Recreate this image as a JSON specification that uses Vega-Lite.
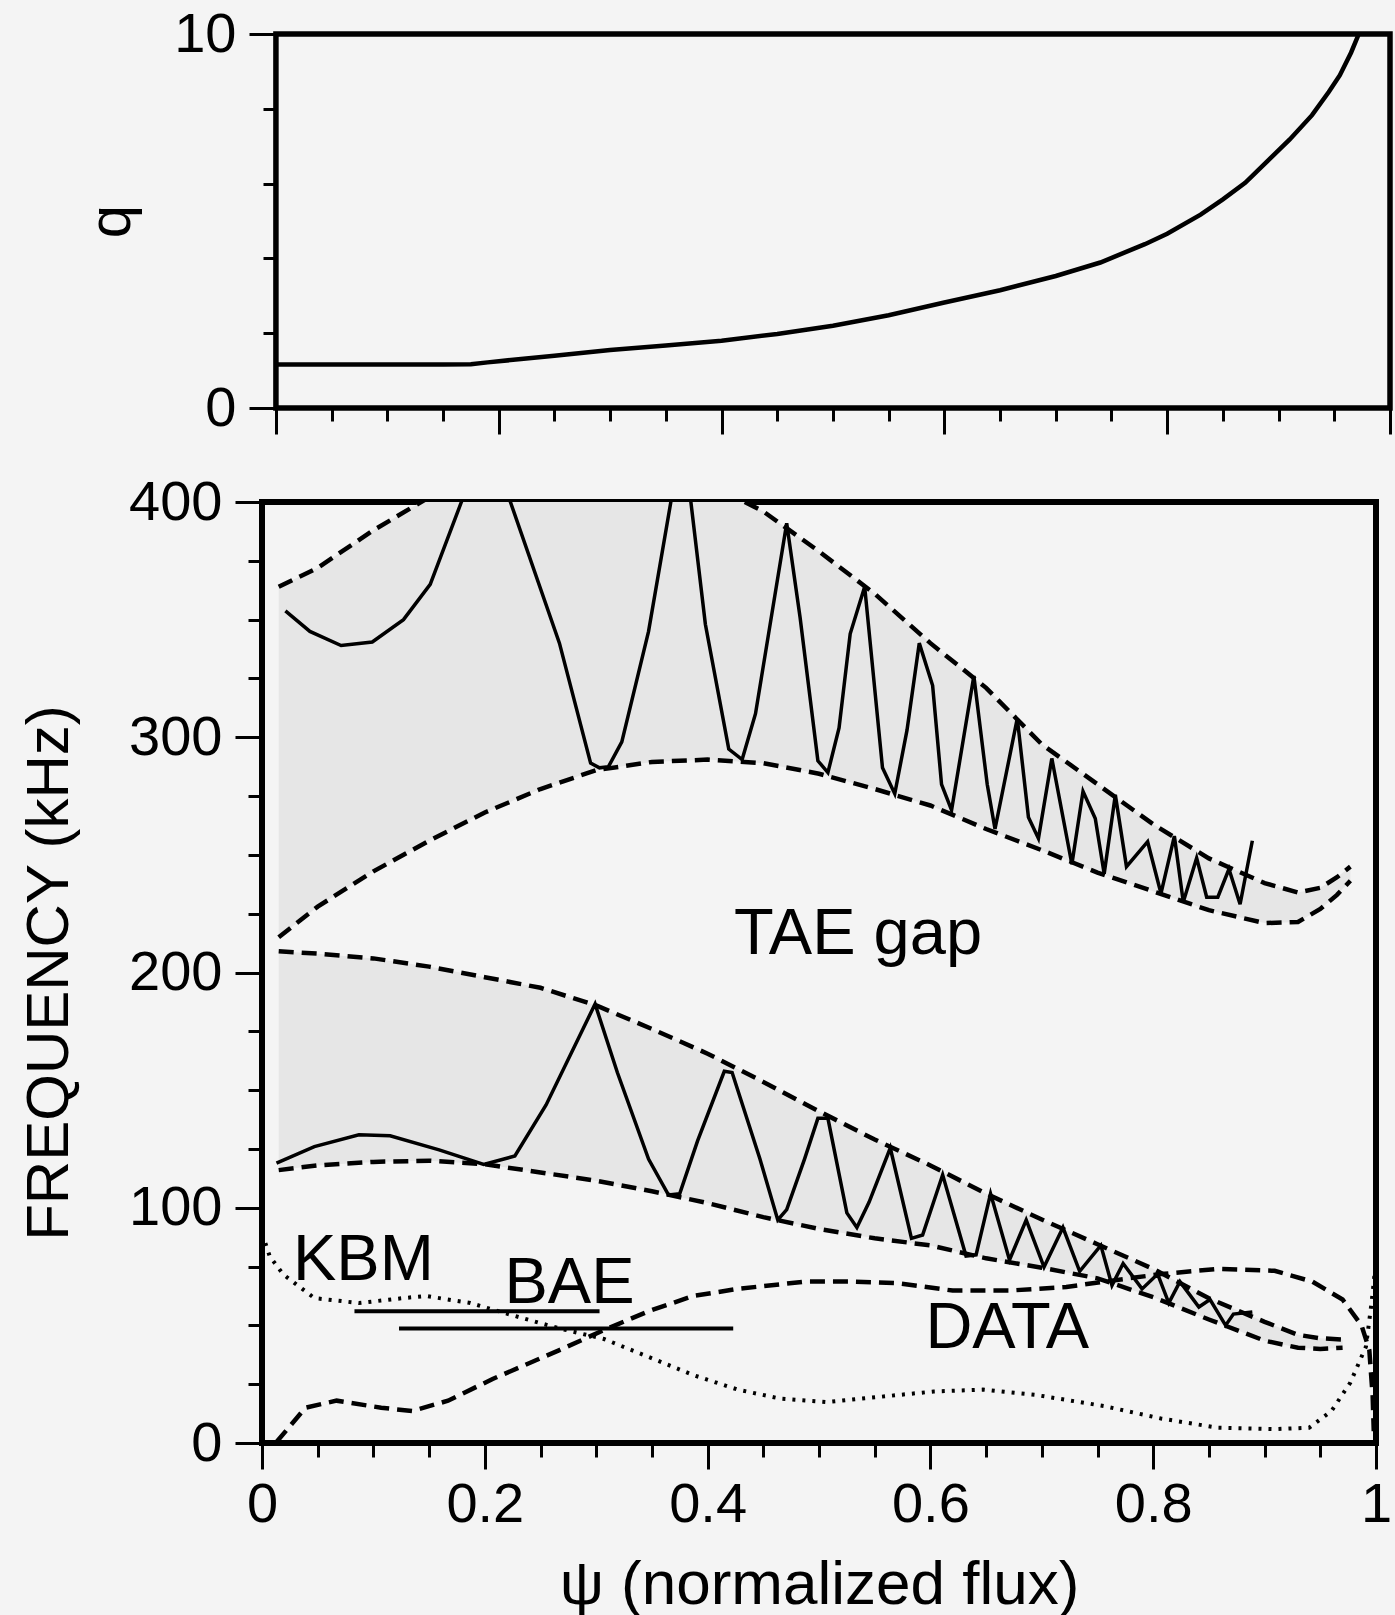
{
  "$schema": "https://vega.github.io/schema/vega-lite/v6.json",
  "padding": {"left": 16, "top": 6, "right": 0, "bottom": 0},
  "spacing": 35,
  "datasets": {
    "q": [
      {"psi": 0, "q": 1.16}, {"psi": 0.05, "q": 1.16}, {"psi": 0.1, "q": 1.16}, {"psi": 0.15, "q": 1.16},
      {"psi": 0.175, "q": 1.17}, {"psi": 0.19, "q": 1.22}, {"psi": 0.22, "q": 1.31}, {"psi": 0.25, "q": 1.4},
      {"psi": 0.3, "q": 1.55}, {"psi": 0.35, "q": 1.67}, {"psi": 0.4, "q": 1.8}, {"psi": 0.45, "q": 1.98},
      {"psi": 0.5, "q": 2.2}, {"psi": 0.55, "q": 2.48}, {"psi": 0.6, "q": 2.82}, {"psi": 0.65, "q": 3.15},
      {"psi": 0.7, "q": 3.53}, {"psi": 0.74, "q": 3.89}, {"psi": 0.78, "q": 4.38}, {"psi": 0.8, "q": 4.66},
      {"psi": 0.83, "q": 5.17}, {"psi": 0.85, "q": 5.58}, {"psi": 0.87, "q": 6.02}, {"psi": 0.89, "q": 6.6},
      {"psi": 0.91, "q": 7.18}, {"psi": 0.93, "q": 7.83}, {"psi": 0.945, "q": 8.45}, {"psi": 0.955, "q": 8.9},
      {"psi": 0.965, "q": 9.5}, {"psi": 0.972, "q": 10}
    ],
    "band1": [
      {"psi": 0.015, "hi": 364, "lo": 215}, {"psi": 0.05, "hi": 372, "lo": 228}, {"psi": 0.1, "hi": 388, "lo": 243},
      {"psi": 0.15, "hi": 402, "lo": 256}, {"psi": 0.2, "hi": 412, "lo": 268}, {"psi": 0.25, "hi": 418, "lo": 278},
      {"psi": 0.3, "hi": 420, "lo": 286}, {"psi": 0.35, "hi": 416, "lo": 289.5}, {"psi": 0.4, "hi": 408, "lo": 290.5},
      {"psi": 0.45, "hi": 396, "lo": 289}, {"psi": 0.5, "hi": 379, "lo": 284.5}, {"psi": 0.55, "hi": 361, "lo": 278},
      {"psi": 0.6, "hi": 340, "lo": 271}, {"psi": 0.65, "hi": 321, "lo": 261}, {"psi": 0.7, "hi": 297, "lo": 252},
      {"psi": 0.75, "hi": 280, "lo": 242.5}, {"psi": 0.8, "hi": 263, "lo": 234.5}, {"psi": 0.85, "hi": 248.5, "lo": 226.5},
      {"psi": 0.9, "hi": 238, "lo": 221}, {"psi": 0.93, "hi": 234, "lo": 221.5}, {"psi": 0.95, "hi": 236, "lo": 227},
      {"psi": 0.965, "hi": 240.5, "lo": 233}, {"psi": 0.977, "hi": 245, "lo": 239}
    ],
    "band2": [
      {"psi": 0.015, "hi": 209, "lo": 116}, {"psi": 0.05, "hi": 208, "lo": 118}, {"psi": 0.1, "hi": 206, "lo": 119.5},
      {"psi": 0.15, "hi": 202.5, "lo": 120}, {"psi": 0.2, "hi": 198, "lo": 118.5}, {"psi": 0.25, "hi": 193.5, "lo": 115},
      {"psi": 0.3, "hi": 186, "lo": 111.5}, {"psi": 0.35, "hi": 176, "lo": 107}, {"psi": 0.4, "hi": 165.5, "lo": 102},
      {"psi": 0.45, "hi": 153.5, "lo": 96}, {"psi": 0.5, "hi": 141, "lo": 91}, {"psi": 0.55, "hi": 129, "lo": 87},
      {"psi": 0.6, "hi": 118, "lo": 84}, {"psi": 0.65, "hi": 106, "lo": 78.5}, {"psi": 0.7, "hi": 95, "lo": 74.5},
      {"psi": 0.75, "hi": 84.5, "lo": 70}, {"psi": 0.8, "hi": 74, "lo": 62}, {"psi": 0.85, "hi": 61.5, "lo": 52.5},
      {"psi": 0.9, "hi": 51.5, "lo": 43.5}, {"psi": 0.93, "hi": 46, "lo": 40.5}, {"psi": 0.95, "hi": 44.5, "lo": 40},
      {"psi": 0.97, "hi": 44, "lo": 40.5}
    ],
    "tae1": [
      {"psi": 0.021, "f": 353.7}, {"psi": 0.043, "f": 345}, {"psi": 0.071, "f": 339}, {"psi": 0.099, "f": 340.5},
      {"psi": 0.127, "f": 350}, {"psi": 0.151, "f": 365}, {"psi": 0.179, "f": 400}, {"psi": 0.2, "f": 428},
      {"psi": 0.223, "f": 400}, {"psi": 0.267, "f": 340}, {"psi": 0.295, "f": 289}, {"psi": 0.303, "f": 287},
      {"psi": 0.311, "f": 287.5}, {"psi": 0.323, "f": 298}, {"psi": 0.347, "f": 345}, {"psi": 0.367, "f": 400},
      {"psi": 0.376, "f": 425}, {"psi": 0.385, "f": 400}, {"psi": 0.398, "f": 348}, {"psi": 0.419, "f": 295},
      {"psi": 0.431, "f": 290.5}, {"psi": 0.443, "f": 310}, {"psi": 0.471, "f": 391}, {"psi": 0.483, "f": 351},
      {"psi": 0.499, "f": 290}, {"psi": 0.508, "f": 285}, {"psi": 0.518, "f": 304}, {"psi": 0.528, "f": 344},
      {"psi": 0.541, "f": 364}, {"psi": 0.557, "f": 287}, {"psi": 0.568, "f": 276}, {"psi": 0.579, "f": 303},
      {"psi": 0.59, "f": 340}, {"psi": 0.602, "f": 322}, {"psi": 0.61, "f": 280}, {"psi": 0.619, "f": 269},
      {"psi": 0.639, "f": 326}, {"psi": 0.651, "f": 280}, {"psi": 0.658, "f": 261}, {"psi": 0.678, "f": 308},
      {"psi": 0.688, "f": 266}, {"psi": 0.697, "f": 257}, {"psi": 0.709, "f": 291}, {"psi": 0.727, "f": 246},
      {"psi": 0.737, "f": 277}, {"psi": 0.748, "f": 265.5}, {"psi": 0.756, "f": 242}, {"psi": 0.766, "f": 275.5},
      {"psi": 0.776, "f": 245}, {"psi": 0.795, "f": 255.6}, {"psi": 0.807, "f": 233.6}, {"psi": 0.819, "f": 258},
      {"psi": 0.827, "f": 230}, {"psi": 0.839, "f": 248.7}, {"psi": 0.848, "f": 232}, {"psi": 0.858, "f": 232},
      {"psi": 0.868, "f": 244}, {"psi": 0.878, "f": 229}, {"psi": 0.889, "f": 256}
    ],
    "tae2": [
      {"psi": 0.013, "f": 119}, {"psi": 0.047, "f": 126}, {"psi": 0.087, "f": 131}, {"psi": 0.115, "f": 130.6},
      {"psi": 0.159, "f": 124.6}, {"psi": 0.199, "f": 118.4}, {"psi": 0.227, "f": 122}, {"psi": 0.255, "f": 143.7},
      {"psi": 0.299, "f": 186.6}, {"psi": 0.319, "f": 157.5}, {"psi": 0.347, "f": 120.7}, {"psi": 0.365, "f": 105.4},
      {"psi": 0.375, "f": 106}, {"psi": 0.391, "f": 128.4}, {"psi": 0.415, "f": 158}, {"psi": 0.422, "f": 157.5},
      {"psi": 0.447, "f": 120.7}, {"psi": 0.463, "f": 94.8}, {"psi": 0.471, "f": 99.2}, {"psi": 0.487, "f": 120.7},
      {"psi": 0.499, "f": 138}, {"psi": 0.508, "f": 138}, {"psi": 0.525, "f": 97.8}, {"psi": 0.534, "f": 91.6},
      {"psi": 0.545, "f": 102.4}, {"psi": 0.564, "f": 125.4}, {"psi": 0.583, "f": 87}, {"psi": 0.593, "f": 88.4},
      {"psi": 0.611, "f": 114}, {"psi": 0.632, "f": 79.5}, {"psi": 0.641, "f": 80}, {"psi": 0.654, "f": 106},
      {"psi": 0.671, "f": 77.8}, {"psi": 0.686, "f": 94.8}, {"psi": 0.702, "f": 74.8}, {"psi": 0.719, "f": 91.6},
      {"psi": 0.734, "f": 73}, {"psi": 0.753, "f": 84}, {"psi": 0.763, "f": 67}, {"psi": 0.773, "f": 76.3},
      {"psi": 0.79, "f": 65.5}, {"psi": 0.804, "f": 71.8}, {"psi": 0.814, "f": 59.5}, {"psi": 0.824, "f": 68.6},
      {"psi": 0.841, "f": 57.8}, {"psi": 0.851, "f": 61}, {"psi": 0.865, "f": 50}, {"psi": 0.872, "f": 54.8},
      {"psi": 0.889, "f": 55.7}
    ],
    "data": [
      {"psi": 0.013, "f": 0.4}, {"psi": 0.039, "f": 15}, {"psi": 0.067, "f": 18}, {"psi": 0.107, "f": 15},
      {"psi": 0.135, "f": 13.6}, {"psi": 0.167, "f": 18}, {"psi": 0.207, "f": 27.2}, {"psi": 0.267, "f": 39.5},
      {"psi": 0.307, "f": 48}, {"psi": 0.347, "f": 56}, {"psi": 0.387, "f": 62.5}, {"psi": 0.427, "f": 65.5},
      {"psi": 0.487, "f": 68.6}, {"psi": 0.526, "f": 68.6}, {"psi": 0.57, "f": 68}, {"psi": 0.62, "f": 64.8},
      {"psi": 0.671, "f": 64.8}, {"psi": 0.722, "f": 66.3}, {"psi": 0.756, "f": 68.6}, {"psi": 0.807, "f": 71.8},
      {"psi": 0.858, "f": 74}, {"psi": 0.909, "f": 73.2}, {"psi": 0.943, "f": 68.6}, {"psi": 0.97, "f": 61},
      {"psi": 0.987, "f": 50}, {"psi": 0.994, "f": 39.5}, {"psi": 0.997, "f": 20}, {"psi": 0.998, "f": 5}
    ],
    "kbm": [
      {"psi": 0.003, "f": 85}, {"psi": 0.007, "f": 79.3}, {"psi": 0.019, "f": 71.7}, {"psi": 0.047, "f": 61.6},
      {"psi": 0.087, "f": 59.5}, {"psi": 0.127, "f": 61.6}, {"psi": 0.147, "f": 62.5}, {"psi": 0.187, "f": 59.5},
      {"psi": 0.227, "f": 54}, {"psi": 0.267, "f": 48.7}, {"psi": 0.307, "f": 44.2}, {"psi": 0.347, "f": 36.6},
      {"psi": 0.387, "f": 28.9}, {"psi": 0.427, "f": 22.7}, {"psi": 0.466, "f": 18.8}, {"psi": 0.507, "f": 17.4},
      {"psi": 0.552, "f": 19.5}, {"psi": 0.603, "f": 21.9}, {"psi": 0.647, "f": 22.7}, {"psi": 0.695, "f": 20.4},
      {"psi": 0.756, "f": 15.7}, {"psi": 0.807, "f": 10.4}, {"psi": 0.858, "f": 6.5}, {"psi": 0.909, "f": 5.9},
      {"psi": 0.94, "f": 6.5}, {"psi": 0.96, "f": 13.6}, {"psi": 0.977, "f": 25.7}, {"psi": 0.991, "f": 41},
      {"psi": 0.996, "f": 59.5}, {"psi": 0.999, "f": 73}
    ],
    "bae": [
      {"seg": "a", "psi": 0.083, "f": 56}, {"seg": "a", "psi": 0.303, "f": 56},
      {"seg": "b", "psi": 0.123, "f": 48.7}, {"seg": "b", "psi": 0.423, "f": 48.7}
    ],
    "labels": [
      {"label": "TAE gap", "psi": 0.535, "f": 208},
      {"label": "KBM", "psi": 0.091, "f": 69.3},
      {"label": "BAE", "psi": 0.276, "f": 59.5},
      {"label": "DATA", "psi": 0.669, "f": 40.4}
    ]
  },
  "vconcat": [
    {
      "width": 1128,
      "height": 374,
      "view": {"stroke": null},
      "layer": [
        {
          "data": {"values": [{}]},
          "mark": {"type": "rect", "fill": null, "fillOpacity": 0, "stroke": "black", "strokeWidth": 5.5},
          "encoding": {
            "x": {"datum": 0, "type": "quantitative", "scale": {"domain": [-0.0125, 1], "nice": false, "zero": false}, "axis": null},
            "x2": {"datum": 1},
            "y": {"datum": 0, "type": "quantitative", "scale": {"domain": [0, 10], "nice": false}, "axis": null},
            "y2": {"datum": 10}
          }
        },
        {
          "data": {"name": "q"},
          "mark": {"type": "line", "color": "black", "strokeWidth": 4.5, "clip": true},
          "encoding": {
            "x": {"field": "psi", "type": "quantitative",
              "axis": {"orient": "bottom", "values": [0, 0.2, 0.4, 0.6, 0.8, 1], "labels": false, "tickSize": 26, "title": null}},
            "y": {"field": "q", "type": "quantitative",
              "axis": {"orient": "left", "offset": -14, "values": [0, 10], "tickSize": 27, "labelPadding": 13, "title": "q", "titlePadding": 31}}
          }
        },
        {
          "data": {"name": "q"},
          "mark": {"type": "line", "opacity": 0, "clip": true},
          "encoding": {
            "x": {"field": "psi", "type": "quantitative",
              "axis": {"orient": "bottom", "values": [0.05, 0.1, 0.15, 0.25, 0.3, 0.35, 0.45, 0.5, 0.55, 0.65, 0.7, 0.75, 0.85, 0.9, 0.95], "labels": false, "tickSize": 13, "title": null}},
            "y": {"field": "q", "type": "quantitative",
              "axis": {"orient": "left", "offset": -14, "values": [2, 4, 6, 8], "labels": false, "tickSize": 13, "title": null}}
          }
        }
      ],
      "resolve": {"axis": {"x": "independent", "y": "independent"}}
    },
    {
      "width": 1114,
      "height": 941,
      "layer": [
        {
          "data": {"name": "band1"},
          "mark": {"type": "area", "color": "#e6e6e6", "clip": true},
          "encoding": {
            "x": {"field": "psi", "type": "quantitative", "scale": {"domain": [0, 1], "nice": false},
              "axis": {"orient": "bottom", "values": [0, 0.2, 0.4, 0.6, 0.8, 1], "format": "~g", "tickSize": 26, "labelPadding": 8, "title": "ψ (normalized flux)", "titleFontSize": 62, "titlePadding": 22}},
            "y": {"field": "hi", "type": "quantitative", "scale": {"domain": [0, 400], "nice": false},
              "axis": {"orient": "left", "values": [0, 100, 200, 300, 400], "tickSize": 27, "labelPadding": 13, "title": "FREQUENCY (kHz)", "titlePadding": 48}},
            "y2": {"field": "lo"}
          }
        },
        {
          "data": {"name": "band2"},
          "mark": {"type": "area", "color": "#e6e6e6", "clip": true},
          "encoding": {
            "x": {"field": "psi", "type": "quantitative",
              "axis": {"orient": "bottom", "values": [0.05, 0.1, 0.15, 0.25, 0.3, 0.35, 0.45, 0.5, 0.55, 0.65, 0.7, 0.75, 0.85, 0.9, 0.95], "labels": false, "tickSize": 14, "title": null}},
            "y": {"field": "hi", "type": "quantitative",
              "axis": {"orient": "left", "values": [25, 50, 75, 125, 150, 175, 225, 250, 275, 325, 350, 375], "labels": false, "tickSize": 14, "title": null}},
            "y2": {"field": "lo"}
          }
        },
        {
          "data": {"name": "band1"},
          "transform": [{"fold": ["hi", "lo"], "as": ["edge", "f"]}],
          "mark": {"type": "line", "color": "black", "strokeWidth": 4.5, "strokeDash": [15, 8], "clip": true},
          "encoding": {
            "x": {"field": "psi", "type": "quantitative", "axis": null},
            "y": {"field": "f", "type": "quantitative", "axis": null},
            "detail": {"field": "edge"}
          }
        },
        {
          "data": {"name": "band2"},
          "transform": [{"fold": ["hi", "lo"], "as": ["edge", "f"]}],
          "mark": {"type": "line", "color": "black", "strokeWidth": 4.5, "strokeDash": [15, 8], "clip": true},
          "encoding": {
            "x": {"field": "psi", "type": "quantitative", "axis": null},
            "y": {"field": "f", "type": "quantitative", "axis": null},
            "detail": {"field": "edge"}
          }
        },
        {
          "data": {"name": "tae1"},
          "mark": {"type": "line", "color": "black", "strokeWidth": 3.5, "clip": true},
          "encoding": {
            "x": {"field": "psi", "type": "quantitative", "axis": null},
            "y": {"field": "f", "type": "quantitative", "axis": null}
          }
        },
        {
          "data": {"name": "tae2"},
          "mark": {"type": "line", "color": "black", "strokeWidth": 3.5, "clip": true},
          "encoding": {
            "x": {"field": "psi", "type": "quantitative", "axis": null},
            "y": {"field": "f", "type": "quantitative", "axis": null}
          }
        },
        {
          "data": {"name": "data"},
          "mark": {"type": "line", "color": "black", "strokeWidth": 4.5, "strokeDash": [15, 8], "clip": true},
          "encoding": {
            "x": {"field": "psi", "type": "quantitative", "axis": null},
            "y": {"field": "f", "type": "quantitative", "axis": null}
          }
        },
        {
          "data": {"name": "kbm"},
          "mark": {"type": "line", "color": "black", "strokeWidth": 4, "strokeDash": [3, 7], "clip": true},
          "encoding": {
            "x": {"field": "psi", "type": "quantitative", "axis": null},
            "y": {"field": "f", "type": "quantitative", "axis": null}
          }
        },
        {
          "data": {"name": "bae"},
          "mark": {"type": "line", "color": "black", "strokeWidth": 4, "clip": true},
          "encoding": {
            "x": {"field": "psi", "type": "quantitative", "axis": null},
            "y": {"field": "f", "type": "quantitative", "axis": null},
            "detail": {"field": "seg"}
          }
        },
        {
          "data": {"name": "labels"},
          "mark": {"type": "text", "fontSize": 65, "align": "center", "baseline": "alphabetic", "color": "black"},
          "encoding": {
            "x": {"field": "psi", "type": "quantitative", "axis": null},
            "y": {"field": "f", "type": "quantitative", "axis": null},
            "text": {"field": "label"}
          }
        }
      ],
      "resolve": {"axis": {"x": "independent", "y": "independent"}}
    }
  ],
  "config": {
    "font": "Liberation Sans",
    "background": "#f4f4f4",
    "view": {"stroke": "black", "strokeWidth": 6},
    "axis": {
      "grid": false, "domain": false, "tickColor": "black", "tickWidth": 3,
      "labelColor": "black", "titleColor": "black", "titleFontWeight": "normal",
      "labelFontSize": 56, "titleFontSize": 60, "labelFlush": false, "labelOverlap": false
    }
  }
}
